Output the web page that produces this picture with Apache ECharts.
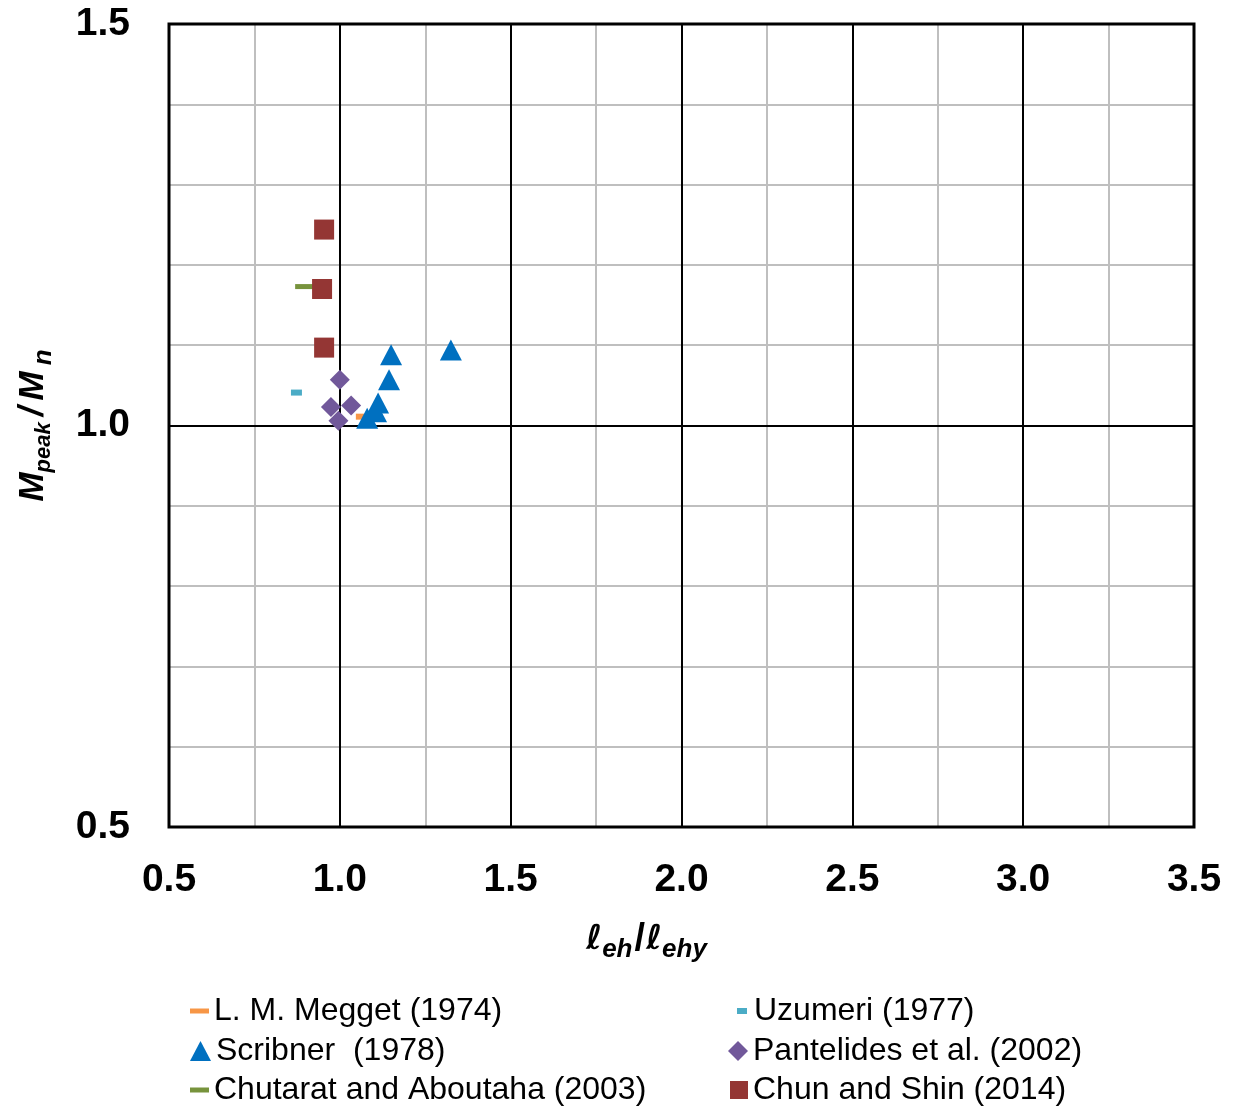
<!DOCTYPE html>
<html><head><meta charset="utf-8">
<script src="https://cdn.jsdelivr.net/npm/echarts@6/dist/echarts.min.js"></script>
<style>html,body{margin:0;padding:0;background:#fff}#c{width:1236px;height:1107px}</style>
</head><body><div id="c"></div>
<script>
// ---- data ----
const seriesNames = ['L. M. Megget (1974)', 'Uzumeri (1977)', 'Scribner  (1978)', 'Pantelides et al. (2002)', 'Chutarat and Aboutaha (2003)', 'Chun and Shin (2014)'];
const meggetData = [[1.063, 1.011]];
const uzumeriData = [[0.873, 1.041]];
const scribnerData = [[1.080, 1.009], [1.106, 1.017], [1.112, 1.028], [1.144, 1.057], [1.150, 1.088], [1.325, 1.094]];
const pantelidesData = [[1.000, 1.057], [0.974, 1.023], [1.033, 1.025], [0.996, 1.006]];
const chutaratData = [[0.897, 1.173]];
const chunShinData = [[0.954, 1.244], [0.948, 1.170], [0.954, 1.097]];
const xTickLabels = ['0.5', '1.0', '1.5', '2.0', '2.5', '3.0', '3.5'];
const yTickLabels = ['0.5', '1.0', '1.5'];
const xMinorStep = 0.25;
const yMinorStep = 0.1;

// ---- styling ----
const colors = ['#F79646', '#4BACC6', '#0070C0', '#71589A', '#77933C', '#943634'];
const FONT = '"Liberation Sans", Arial, "DejaVu Sans", sans-serif';
const xMin = parseFloat(xTickLabels[0]), xMax = parseFloat(xTickLabels[xTickLabels.length - 1]);
const yMin = parseFloat(yTickLabels[0]), yMax = parseFloat(yTickLabels[yTickLabels.length - 1]);
const xMajor = parseFloat(xTickLabels[1]) - xMin;
const yMajor = parseFloat(yTickLabels[1]) - yMin;

const chart = echarts.init(document.getElementById('c'), null, {renderer: 'canvas'});

const symbols = [
  {symbol: 'rect', size: [11, 6], legendW: 19, legendH: 5},
  {symbol: 'rect', size: [11, 6], legendW: 10, legendH: 6},
  {symbol: 'triangle', size: [22, 21], legendW: 21, legendH: 20},
  {symbol: 'diamond', size: [20, 20], legendW: 20, legendH: 20},
  {symbol: 'rect', size: [19, 5], legendW: 19, legendH: 5},
  {symbol: 'rect', size: [20, 20], legendW: 18, legendH: 18}
];
const datasets = [meggetData, uzumeriData, scribnerData, pantelidesData, chutaratData, chunShinData];

const legendPos = [
  {left: 190, cy: 1008, pad: 0},
  {left: 737, cy: 1008, pad: 2},
  {left: 190, cy: 1048, pad: 0},
  {left: 728, cy: 1048, pad: 0},
  {left: 190, cy: 1087, pad: 0},
  {left: 730, cy: 1087, pad: 0}
];

const series = seriesNames.map((n, i) => ({
  name: n,
  type: 'scatter',
  xAxisIndex: 0,
  yAxisIndex: 0,
  data: datasets[i],
  symbol: symbols[i].symbol,
  symbolSize: symbols[i].size,
  itemStyle: {color: colors[i], opacity: 1},
  emphasis: {disabled: true},
  z: 3 + i
}));

const legends = seriesNames.map((n, i) => ({
  show: true,
  orient: 'horizontal',
  left: legendPos[i].left,
  top: legendPos[i].cy - 13,
  padding: 0,
  itemWidth: symbols[i].legendW,
  itemHeight: symbols[i].legendH,
  selectedMode: false,
  data: [{name: n, icon: symbols[i].symbol}],
  textStyle: {fontSize: 32, color: '#000', fontFamily: FONT, padding: [0, 0, 0, legendPos[i].pad]}
}));

const labelStyle = {fontSize: 39, fontWeight: 'bold', color: '#000', fontFamily: FONT};

const option = {
  animation: false,
  backgroundColor: '#fff',
  grid: {left: 169, right: 42, top: 24, bottom: 280, show: true, borderColor: '#000', borderWidth: 3, backgroundColor: 'transparent', z: 2},
  legend: legends,
  xAxis: [
    {
      type: 'value', position: 'bottom', min: xMin, max: xMax, interval: xMajor, z: 1,
      axisLine: {show: false}, axisTick: {show: false},
      axisLabel: Object.assign({margin: 34, formatter: v => v.toFixed(1)}, labelStyle),
      splitLine: {show: true, showMinLine: false, showMaxLine: false, lineStyle: {color: '#000', width: 2}},
      name: '{l|ℓ}{s|eh}{sl|/}{l|ℓ}{s|ehy}',
      nameLocation: 'middle',
      nameGap: 90,
      nameTextStyle: {
        padding: [0, 70, 0, 0],
        rich: {
          l: {fontSize: 34, fontWeight: 'bold', fontStyle: 'italic', color: '#000', fontFamily: '"DejaVu Sans", ' + FONT},
          s: {fontSize: 26, fontWeight: 'bold', fontStyle: 'italic', color: '#000', fontFamily: FONT, padding: [20, 0, 0, 0]},
          sl: {fontSize: 38, fontWeight: 'bold', color: '#000', fontFamily: FONT, padding: [0, 1, 0, 2]}
        }
      }
    },
    {
      type: 'value', position: 'top', min: xMin, max: xMax, interval: xMinorStep, z: 0,
      axisLine: {show: false}, axisTick: {show: false}, axisLabel: {show: false},
      splitLine: {show: true, showMinLine: false, showMaxLine: false, lineStyle: {color: '#BFBFBF', width: 2}}
    }
  ],
  yAxis: [
    {
      type: 'value', position: 'left', min: yMin, max: yMax, interval: yMajor, z: 1,
      axisLine: {show: false}, axisTick: {show: false},
      axisLabel: Object.assign({margin: 39, formatter: v => v.toFixed(1)}, labelStyle),
      splitLine: {show: true, showMinLine: false, showMaxLine: false, lineStyle: {color: '#000', width: 2}},
      name: '{m|M}{s|peak}{sl|/}{m|M}{n|n}',
      nameLocation: 'middle',
      nameRotate: 90,
      nameGap: 112,
      nameTextStyle: {
        rich: {
          m: {fontSize: 35, fontWeight: 'bold', fontStyle: 'italic', color: '#000', fontFamily: FONT},
          sl: {fontSize: 35, fontWeight: 'bold', fontStyle: 'italic', color: '#000', fontFamily: FONT, padding: [0, 6, 0, 6]},
          s: {fontSize: 22, fontWeight: 'bold', fontStyle: 'italic', color: '#000', fontFamily: FONT, padding: [22, 0, 0, 0]},
          n: {fontSize: 26, fontWeight: 'bold', fontStyle: 'italic', color: '#000', fontFamily: FONT, padding: [22, 0, 0, 6]}
        }
      }
    },
    {
      type: 'value', position: 'right', min: yMin, max: yMax, interval: yMinorStep, z: 0,
      axisLine: {show: false}, axisTick: {show: false}, axisLabel: {show: false},
      splitLine: {show: true, showMinLine: false, showMaxLine: false, lineStyle: {color: '#BFBFBF', width: 2}}
    }
  ],
  series: series
};
chart.setOption(option);
</script>
</body></html>
